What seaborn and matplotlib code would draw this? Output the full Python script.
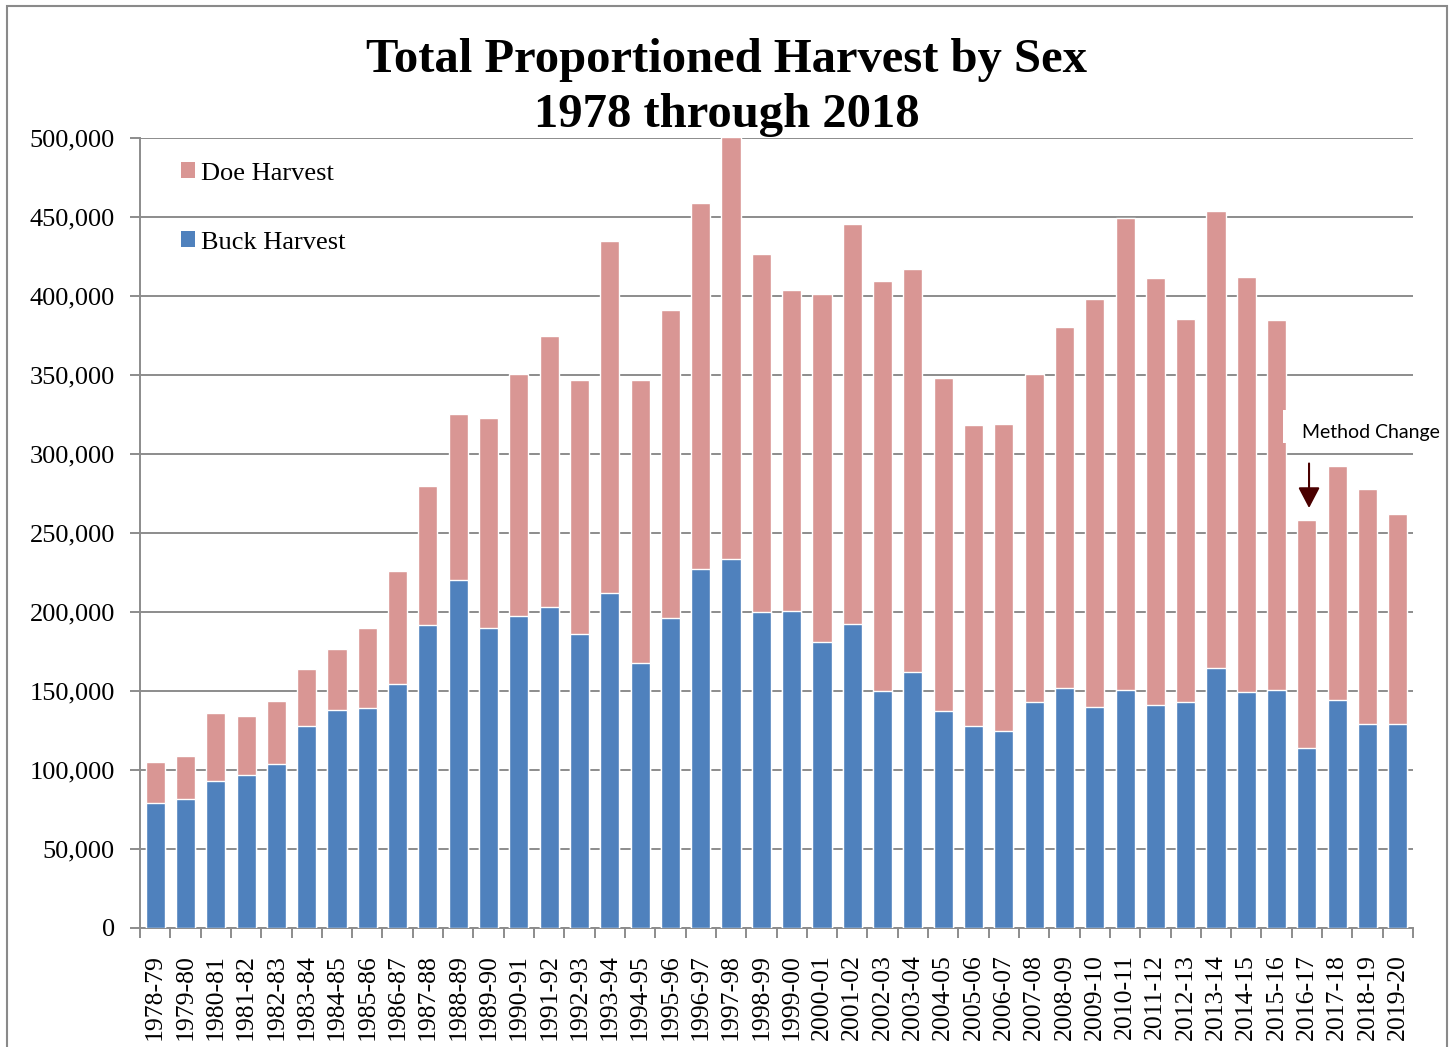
import matplotlib
matplotlib.use("Agg")
import matplotlib.pyplot as plt
from matplotlib.patches import Patch, Rectangle
from matplotlib.ticker import FuncFormatter, FixedLocator
import seaborn as sns
import pandas as pd
import numpy as np

seasons = ["1978-79", "1979-80", "1980-81", "1981-82", "1982-83", "1983-84", "1984-85",
           "1985-86", "1986-87", "1987-88", "1988-89", "1989-90", "1990-91", "1991-92",
           "1992-93", "1993-94", "1994-95", "1995-96", "1996-97", "1997-98", "1998-99",
           "1999-00", "2000-01", "2001-02", "2002-03", "2003-04", "2004-05", "2005-06",
           "2006-07", "2007-08", "2008-09", "2009-10", "2010-11", "2011-12", "2012-13",
           "2013-14", "2014-15", "2015-16", "2016-17", "2017-18", "2018-19", "2019-20"]

buck_harvest = [79300, 81800, 92800, 97000, 104000, 127600, 137700, 139400, 154200, 192000,
                220400, 190000, 197500, 203000, 186000, 211800, 167500, 196000, 227400, 233700,
                199800, 200400, 181000, 192600, 150000, 162000, 137500, 128000, 124900, 142800,
                152000, 139900, 150400, 141300, 142800, 164400, 149200, 150800, 114100, 144300,
                128900, 129300]

doe_harvest = [25700, 27100, 43200, 37000, 39700, 36400, 39100, 50500, 71800, 88000,
               105100, 132800, 153100, 171700, 160800, 222800, 179300, 195000, 231200, 267000,
               226800, 203200, 220400, 253200, 259700, 254900, 210800, 190400, 194100, 207600,
               228600, 258400, 299200, 269900, 242400, 289200, 262600, 233800, 143900, 147900,
               149100, 132700]

y_ticks = [0, 50000, 100000, 150000, 200000, 250000, 300000, 350000, 400000, 450000, 500000]

title_line1 = "Total Proportioned Harvest by Sex"
title_line2 = "1978 through 2018"
annotation_text = "Method Change"
annot_season = "2016-17"

BUCK_C = "#4F81BD"
DOE_C = "#D99694"
GRID_C = "#8C8C8C"

sns.set_theme(style="white")
plt.rcParams["font.family"] = ["Liberation Serif", "DejaVu Serif"]

df = pd.DataFrame({"season": seasons, "buck": buck_harvest, "doe": doe_harvest})
df["total"] = df["buck"] + df["doe"]

W, H = 1453, 1047
fig = plt.figure(figsize=(W / 100, H / 100), dpi=100)
ax = fig.add_axes([140 / W, 1 - 928 / H, (1413 - 140) / W, (928 - 138) / H])

sns.barplot(data=df, x="season", y="total", color=DOE_C, saturation=1, width=0.63,
            errorbar=None, ax=ax, zorder=3)
sns.barplot(data=df, x="season", y="buck", color=BUCK_C, saturation=1, width=0.63,
            errorbar=None, ax=ax, zorder=3)

ax.set_xlim(-0.5, len(seasons) - 0.5)
ax.set_ylim(0, 500000)
ax.set_xlabel("")
ax.set_ylabel("")

# grid
ax.set_yticks(y_ticks)
ax.yaxis.set_major_formatter(FuncFormatter(lambda v, p: f"{int(v):,}"))
ax.grid(axis="y", color=GRID_C, linewidth=1.4, zorder=0)
ax.set_axisbelow(True)

for s in ["top", "right"]:
    ax.spines[s].set_visible(False)
for s in ["left", "bottom"]:
    ax.spines[s].set_color(GRID_C)
    ax.spines[s].set_linewidth(1.4)

ax.tick_params(axis="y", which="major", length=7, width=1.4, color=GRID_C,
               labelsize=19, pad=11, left=True, labelcolor="black")
ax.set_xticks(range(len(seasons)))
ax.set_xticklabels(seasons, rotation=90)
ax.tick_params(axis="x", which="major", length=0, labelsize=18.5, pad=19, labelcolor="black")
ax.xaxis.set_minor_locator(FixedLocator(np.arange(-0.5, len(seasons), 1.0)))
ax.tick_params(axis="x", which="minor", length=7, width=1.4, color=GRID_C, bottom=True)

# legend
handles = [Patch(facecolor=DOE_C, edgecolor="none", label="Doe Harvest"),
           Patch(facecolor=BUCK_C, edgecolor="none", label="Buck Harvest")]
leg = ax.legend(handles=handles, loc="upper left", bbox_to_anchor=(0.032, 0.969),
                frameon=False, fontsize=19, handlelength=0.55, handleheight=0.55,
                handletextpad=0.22, labelspacing=1.76, borderaxespad=0, borderpad=0)
for t in leg.get_texts():
    t.set_color("black")

# title
fig.text(0.5, 1 - 72 / H, title_line1, ha="center", va="baseline", fontsize=35,
         fontweight="bold", color="black")
fig.text(0.5, 1 - 127 / H, title_line2, ha="center", va="baseline", fontsize=35,
         fontweight="bold", color="black")

# method change annotation
xi = seasons.index(annot_season)
ax.add_patch(Rectangle((xi - 0.79, 307000), 5.5, 21000, facecolor="white",
                       edgecolor="none", zorder=5, clip_on=False))
ax.text(xi - 0.16, 313500, annotation_text, ha="left", va="center", fontsize=14,
        family=["Lato", "DejaVu Sans"], color="black", zorder=6)
ax.annotate("", xy=(xi + 0.07, 265800), xytext=(xi + 0.07, 294000),
            arrowprops=dict(arrowstyle="-|>,head_width=0.55,head_length=1.05",
                            color="#4A0000", lw=1.5, shrinkA=0, shrinkB=0),
            zorder=6)

# outer frame
fig.patches.append(Rectangle((7 / W, -0.02), (1447 - 7) / W, 1 - 6 / H + 0.02,
                             transform=fig.transFigure, fill=False,
                             edgecolor="#8A8A8A", linewidth=1.5))

fig.savefig("out.png", dpi=100, facecolor="white")
